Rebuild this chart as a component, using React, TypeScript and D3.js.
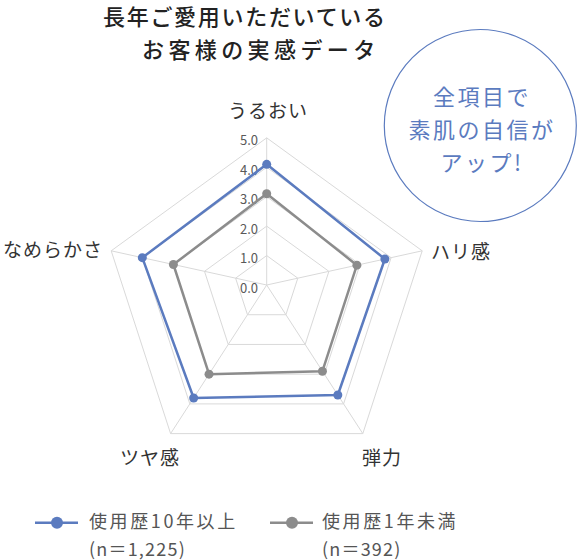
import React from "react";
import * as d3 from "d3";

const axes = ["うるおい", "ハリ感", "弾力", "ツヤ感", "なめらかさ"];
const series10y = [4.1, 3.8, 3.7, 3.8, 4.0];
const series1y = [3.1, 2.9, 2.9, 3.0, 3.0];
const ticks = [0, 1, 2, 3, 4, 5];
const seriesNames = ["使用歴10年以上", "使用歴1年未満"];
const seriesCounts = ["(n＝1,225)", "(n＝392)"];
const titleLines = ["長年ご愛用いただいている", "お客様の実感データ"];
const badgeLines = ["全項目で", "素肌の自信が", "アップ!"];

const W = 578;
const H = 560;
const cx = 266.7;
const cy = 285;
const tilt = 0.1;
const FONT = "'Noto Sans CJK JP', 'Noto Sans', sans-serif";
const BLUE = "#5b7bbf";
const GRAY = "#8c8c8c";

const r = d3.scaleLinear().domain([0, 5]).range([0, 163.5]);
const angle = d3
  .scalePoint<string>()
  .domain(axes)
  .range([0, (2 * Math.PI * (axes.length - 1)) / axes.length]);

function pt(v: number, a: string): [number, number] {
  const rr = r(v);
  const th = angle(a) as number;
  return [cx + rr * Math.sin(th), cy - rr * Math.cos(th) + tilt * rr];
}

const line = d3.line<[number, number]>().curve(d3.curveLinearClosed);

const labelPos: Record<string, { x: number; y: number; anchor: string }> = {
  うるおい: { x: 268, y: 118, anchor: "middle" },
  ハリ感: { x: 431, y: 259, anchor: "start" },
  弾力: { x: 382, y: 465, anchor: "middle" },
  ツヤ感: { x: 150, y: 465, anchor: "middle" },
  なめらかさ: { x: 103, y: 257, anchor: "end" },
};

export default function App() {
  const data = [
    { values: series10y, color: BLUE },
    { values: series1y, color: GRAY },
  ];
  return (
    <svg
      width={W}
      height={H}
      viewBox={`0 0 ${W} ${H}`}
      style={{ position: "absolute", left: 0, top: 0, background: "#fff" }}
    >
      {/* title */}
      <g fontFamily={FONT} fill="#222" fontWeight={500} fontSize={22}>
        <text x={103} y={25} letterSpacing={1.7}>
          {titleLines[0]}
        </text>
        <text x={142} y={58} letterSpacing={4.4}>
          {titleLines[1]}
        </text>
      </g>

      {/* grid rings */}
      <g fill="none" stroke="#d9d9d9" strokeWidth={1}>
        {ticks
          .filter((t) => t > 0)
          .map((t) => (
            <path key={t} d={line(axes.map((a) => pt(t, a))) || ""} />
          ))}
        {axes.map((a) => {
          const [x, y] = pt(5, a);
          const [x0, y0] = pt(0, a);
          return <line key={a} x1={x0} y1={y0} x2={x} y2={y} />;
        })}
      </g>

      {/* tick labels */}
      <g fontFamily={FONT} fontSize={13} fill="#595959" textAnchor="end">
        {ticks.map((t) => {
          const [, y] = pt(t, axes[0]);
          return (
            <text key={t} x={258} y={y + 2} dominantBaseline="central">
              {t.toFixed(1)}
            </text>
          );
        })}
      </g>

      {/* series */}
      {data.map((s, i) => (
        <g key={i}>
          <path
            d={line(axes.map((a, j) => pt(s.values[j], a))) || ""}
            fill="none"
            stroke={s.color}
            strokeWidth={2.5}
            strokeLinejoin="round"
          />
          {axes.map((a, j) => {
            const [x, y] = pt(s.values[j], a);
            return <circle key={a} cx={x} cy={y} r={4.5} fill={s.color} />;
          })}
        </g>
      ))}

      {/* axis labels */}
      <g fontFamily={FONT} fontSize={19} fill="#333" letterSpacing={1}>
        {axes.map((a) => (
          <text
            key={a}
            x={labelPos[a].x}
            y={labelPos[a].y}
            textAnchor={labelPos[a].anchor as any}
          >
            {a}
          </text>
        ))}
      </g>

      {/* badge */}
      <circle cx={480.3} cy={125.5} r={96} fill="#fff" stroke={BLUE} strokeWidth={1.2} />
      <g fontFamily={FONT} fontSize={22} fill={BLUE} textAnchor="middle" letterSpacing={2.5}>
        {badgeLines.map((t, i) => (
          <text key={i} x={482} y={105 + i * 33}>
            {t}
          </text>
        ))}
      </g>

      {/* legend */}
      <g fontFamily={FONT}>
        {data.map((s, i) => {
          const x0 = i === 0 ? 35 : 270;
          const tx = i === 0 ? 89 : 322;
          return (
            <g key={i}>
              <line x1={x0} x2={x0 + 43} y1={522.7} y2={522.7} stroke={s.color} strokeWidth={2.5} />
              <circle cx={x0 + 22} cy={522.7} r={6} fill={s.color} />
              <text x={tx} y={528} fontSize={18} fill="#555" letterSpacing={2.6}>
                {seriesNames[i]}
              </text>
              <text x={tx} y={556} fontSize={18} fill="#555" letterSpacing={1.2}>
                {seriesCounts[i]}
              </text>
            </g>
          );
        })}
      </g>
    </svg>
  );
}
